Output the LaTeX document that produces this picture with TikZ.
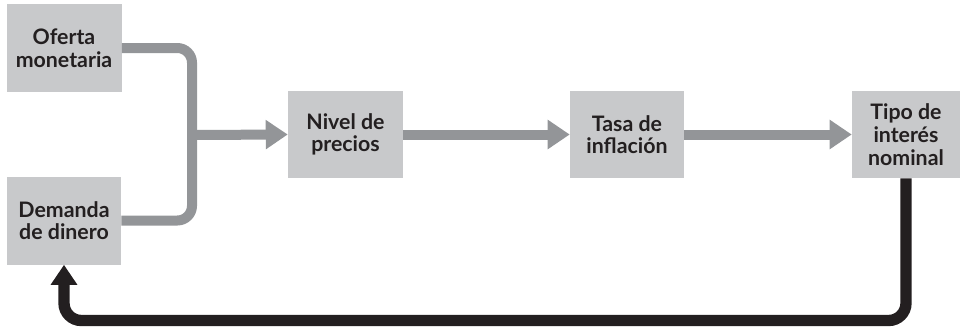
\documentclass[tikz,border=0pt]{standalone}
\usepackage{fontspec}
\setmainfont{Lato}
\usepackage{tikz}
\usetikzlibrary{arrows.meta,calc}

\definecolor{cajagris}{HTML}{C8C9CB}
\definecolor{flechagris}{HTML}{939598}
\definecolor{flechanegra}{HTML}{231F20}

\tikzset{
  caja/.style={fill=cajagris,align=center,inner sep=0pt,
    font=\bfseries\fontsize{16}{17}\selectfont,text=flechanegra},
  flechag/.style={draw=flechagris,line width=7.5pt,
    -{Triangle[length=16.5pt,width=21pt]}},
  lineag/.style={draw=flechagris,line width=7.5pt,rounded corners=11pt},
  flechan/.style={draw=flechanegra,line width=8.5pt,rounded corners=13pt,
    -{Triangle[length=15pt,width=19pt]}}
}

\begin{document}
\begin{tikzpicture}[x=0.75pt,y=-0.75pt]
\useasboundingbox (0,0) rectangle (961,326);
\node[caja,minimum width=86.25pt,minimum height=66pt] (oferta) at (64,48) {Oferta\\monetaria};
\node[caja,minimum width=85.5pt,minimum height=66pt] (demanda) at (64,220.5) {Demanda\\de dinero};
\node[caja,minimum width=86.25pt,minimum height=65.25pt] (nivel) at (345.5,134.5) {Nivel de\\precios};
\node[caja,minimum width=85.5pt,minimum height=65.25pt] (tasa) at (627,134.5) {Tasa de\\inflación};
\node[caja,minimum width=81pt,minimum height=65.25pt] (tipo) at (906,134.5) {Tipo de\\interés\\nominal};
\coordinate (junta) at (192,135);
\coordinate (fondo) at (0,320.5);
% oferta y demanda se unen
\draw[lineag] (oferta.east) -| (junta) |- (demanda.east);
\draw[flechag] (junta) -- (nivel.west);
\draw[flechag] (nivel.east) -- (tasa.west);
\draw[flechag] (tasa.east) -- (tipo.west);
% vuelta
\draw[flechan] (tipo.south) |- (fondo -| demanda.south) -- (demanda.south);
\end{tikzpicture}
\end{document}
